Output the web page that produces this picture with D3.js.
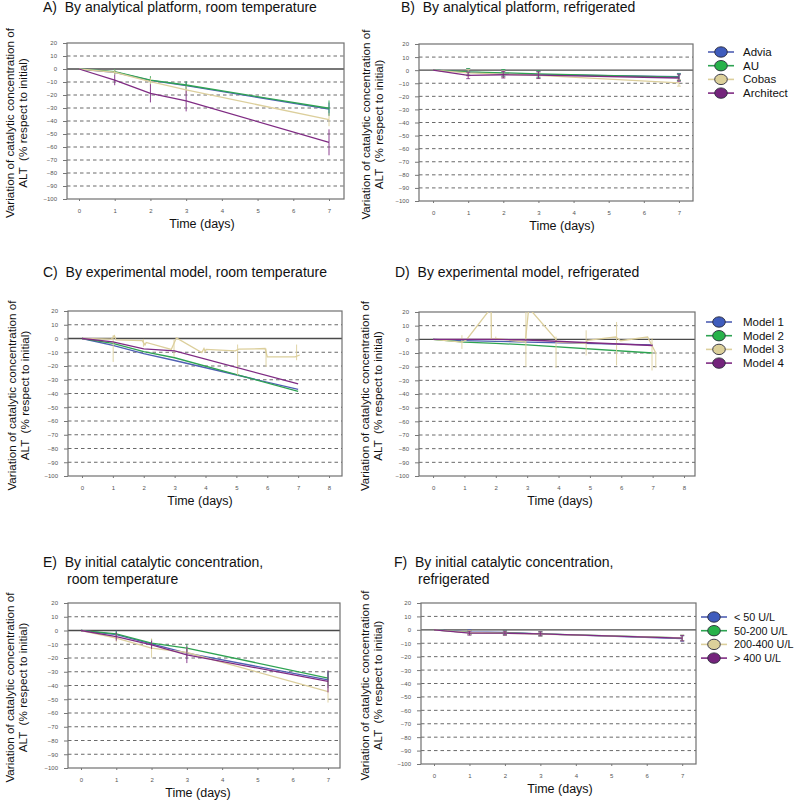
<!DOCTYPE html>
<html>
<head>
<meta charset="utf-8">
<script src="https://cdn.jsdelivr.net/npm/d3@7"></script>
<style>
body { margin: 0; background: #fff; }
svg { font-family: "Liberation Sans", Arial, sans-serif; }
</style>
</head>
<body>
<svg id="chart" width="795" height="802"></svg>
<script>
// sampling days and axis ticks
var days = [0, 1, 2, 3, 7];
var yTicks = [20, 10, 0, -10, -20, -30, -40, -50, -60, -70, -80, -90, -100];
var xTicks7 = [0, 1, 2, 3, 4, 5, 6, 7];
var xTicks8 = [0, 1, 2, 3, 4, 5, 6, 7, 8];

var platformNames = ["Advia", "AU", "Cobas", "Architect"];
var modelNames = ["Model 1", "Model 2", "Model 3", "Model 4"];
var concNames = ["< 50 U/L", "50-200 U/L", "200-400 U/L", "> 400 U/L"];

// A) platform, room temperature
var roomPlatAdvia = [0, -2.5, -8.8, -12.8, -30.8];
var roomPlatAU = [0, -2, -8.5, -12.3, -30.2];
var roomPlatCobas = [0, -2.5, -9.7, -16, -39];
var roomPlatArchitect = [0, -8.5, -18.7, -24.6, -56.4];
var roomPlatAdviaErr = [0, 2, 2, 3, 5];
var roomPlatAUErr = [0, 2, 3, 3, 6];
var roomPlatCobasErr = [0, 2, 3, 3, 5];
var roomPlatArchitectErr = [0, 4, 7, 8, 10];

// B) platform, refrigerated
var fridgePlatAdvia = [0, -1.5, -2.5, -3.5, -5];
var fridgePlatAU = [0, -1.3, -2, -2.8, -5.4];
var fridgePlatCobas = [0, -2, -3, -4, -9.7];
var fridgePlatArchitect = [0, -4, -3.5, -3.8, -6];
var fridgePlatErr = [0, 2.5, 2.5, 2.5, 2.5];

// C) model, room temperature
var roomModel1 = [0, -5, -11, -16, -37];
var roomModel2 = [0, -3.5, -9.5, -14, -38.5];
var roomModel4 = [0, -2.5, -7.5, -9, -33];
var roomModel3Days = [0, 0.95, 1.05, 1.1, 1.95, 2.04, 2.08, 2.89, 3.06, 3.88, 3.95, 3.99, 4.02, 4.96, 5.08, 5.93, 6.0, 6.9, 7.05];
var roomModel3Values = [0, -0.5, 2, -1, -1.5, -4.7, -2.9, -8, 0.5, -10.2, -7.3, -9.5, -7.9, -9, -7.8, -7.3, -13.4, -13.4, -12];
var roomModel3SpikeDays = [1.01, 1.99, 2.98, 5.04, 5.96, 6.95];
var roomModel3SpikeLow = [-17, -6, -13.4, -26.8, -20.7, -15.8];
var roomModel3SpikeHigh = [2.4, -0.3, -1, -4.4, -7.3, -4.4];

// D) model, refrigerated
var fridgeModel1 = [0, -1, -1.5, -2, -4];
var fridgeModel2 = [0, -2, -3, -4, -10];
var fridgeModel4 = [0, 0, 0, -0.5, -4.5];
var fridgeModel3Days = [0, 0.92, 1.06, 1.85, 1.86, 2.04, 2.94, 3.05, 3.9, 3.95, 4.86, 4.92, 5.82, 5.98, 6.84, 7.1];
var fridgeModel3Values = [0, -2, -0.5, 23, 0, 0.5, -2, 23, 0.5, -2, -3, -0.7, 1.7, -1, 1.7, -10];
var fridgeModel3SpikeDays = [0.92, 2.0, 2.96, 3.92, 4.88, 5.85, 6.98, 7.1];
var fridgeModel3SpikeLow = [-7, -1, -20, -21, -11.8, -19, -22.8, -21];
var fridgeModel3SpikeHigh = [3, 2, 20, 2, 6.6, 12.7, 1, -10];

// E) initial concentration, room temperature
var roomConcLow = [0, -3, -9.7, -16.5, -35.9];
var roomConcMid = [0, -2.4, -9.2, -12.8, -34.6];
var roomConcHigh = [0, -5.6, -12.8, -16, -44.4];
var roomConcVeryHigh = [0, -4.4, -10.4, -17.7, -37];
var roomConcLowErr = [0, 3, 3, 4, 6];
var roomConcMidErr = [0, 2, 3, 3, 5];
var roomConcHighErr = [0, 3, 7, 4, 8];
var roomConcVeryHighErr = [0, 3, 3, 6, 8];

// F) initial concentration, refrigerated
var fridgeConcLow = [0, -1.5, -2, -3, -6.5];
var fridgeConcMid = [0, -2, -2.2, -3, -6];
var fridgeConcHigh = [0, -2, -2.5, -3.2, -6];
var fridgeConcVeryHigh = [0, -2.5, -2.5, -3, -6.2];
var fridgeConcErr = [0, 1.5, 1.5, 1.5, 2];

var lineColors = ["#4f5fb3", "#2ea352", "#dccf9c", "#7f2b83"];
var dotColors = ["#3f5cbd", "#27b24a", "#dcd09a", "#74247c"];

var svg = d3.select("#chart");
var clipCount = 0;

/*
 * LinePanel(Object config)
 *  title - array of [text, x, y]
 *  left/right/top/bottom - plot box in pixels
 *  xDomain, xTicks - time axis
 *  series - array of {color, x, y, err, spikeX, lo, hi}
 *  labelX - x of the two rotated y label lines
 *  legend - optional {names, x, y, tx}
 */
function LinePanel(config) {
    var x = d3.scaleLinear().domain(config.xDomain).range([config.left, config.right]);
    var y = d3.scaleLinear().domain([-100, 20]).range([config.bottom, config.top]);
    var g = svg.append("g");

    //titles
    config.title.forEach(function(t) {
        g.append("text").attr("x", t[1]).attr("y", t[2])
         .attr("xml:space", "preserve")
         .attr("font-size", 14).attr("fill", "#111").text(t[0]);
    });

    //dashed grid lines
    g.selectAll(".grid")
     .data(yTicks.filter(function(d) { return d != 0 && d != 20 && d != -100; }))
     .enter().append("line")
     .attr("x1", config.left).attr("x2", config.right)
     .attr("y1", function(d) { return y(d); }).attr("y2", function(d) { return y(d); })
     .attr("stroke", "#444").attr("stroke-width", 0.8).attr("stroke-dasharray", "3.5,3");

    //zero line
    g.append("line")
     .attr("x1", config.left).attr("x2", config.right)
     .attr("y1", y(0)).attr("y2", y(0))
     .attr("stroke", "#4a4a4a").attr("stroke-width", 1.4);

    //box
    g.append("rect")
     .attr("x", config.left).attr("y", config.top)
     .attr("width", config.right - config.left).attr("height", config.bottom - config.top)
     .attr("fill", "none").attr("stroke", "#707070").attr("stroke-width", 1.2);

    //axes
    var yAxis = g.append("g")
     .attr("transform", "translate(" + config.left + ",0)")
     .call(d3.axisLeft(y).tickValues(yTicks).tickSize(4).tickPadding(6));
    var xAxis = g.append("g")
     .attr("transform", "translate(0," + config.bottom + ")")
     .call(d3.axisBottom(x).tickValues(config.xTicks).tickSize(2).tickPadding(8));
    [yAxis, xAxis].forEach(function(a) {
        a.select(".domain").remove();
        a.selectAll("line").attr("stroke", "#777");
        a.selectAll("text").attr("font-size", 6).attr("fill", "#555")
         .attr("font-family", "Liberation Sans, Arial, sans-serif");
    });

    //axis labels
    g.append("text")
     .attr("x", config.timeX).attr("y", config.bottom + 29)
     .attr("text-anchor", "middle").attr("font-size", 12.5).attr("fill", "#111")
     .text("Time (days)");
    var cy = (config.top + config.bottom) / 2 + 2;
    g.append("text")
     .attr("transform", "translate(" + config.labelX + "," + cy + ") rotate(-90)")
     .attr("text-anchor", "middle").attr("font-size", 11.7).attr("fill", "#111")
     .text("Variation of catalytic concentration of");
    g.append("text")
     .attr("transform", "translate(" + (config.labelX + 13) + "," + cy + ") rotate(-90)")
     .attr("text-anchor", "middle").attr("font-size", 11.7).attr("fill", "#111")
     .attr("xml:space", "preserve")
     .text("ALT  (% respect to initial)");

    //clip to plot box
    var clipId = "clip" + (clipCount++);
    svg.append("clipPath").attr("id", clipId).append("rect")
     .attr("x", config.left).attr("y", config.top)
     .attr("width", config.right - config.left).attr("height", config.bottom - config.top);
    var plot = g.append("g").attr("clip-path", "url(#" + clipId + ")");

    var line = d3.line()
     .x(function(d) { return x(d[0]); })
     .y(function(d) { return y(d[1]); });

    config.series.forEach(function(s) {
        var pts = s.x.map(function(d, i) { return [d, s.y[i]]; });
        plot.append("path")
         .attr("d", line(pts))
         .attr("fill", "none").attr("stroke", s.color).attr("stroke-width", 1.3);

        //error bars / spikes
        var bars = [];
        if (s.err) {
            s.x.forEach(function(d, i) {
                if (s.err[i] > 0) bars.push([d, s.y[i] - s.err[i], s.y[i] + s.err[i]]);
            });
        }
        if (s.spikeX) {
            s.spikeX.forEach(function(d, i) { bars.push([d, s.lo[i], s.hi[i]]); });
        }
        bars.forEach(function(b) {
            plot.append("line")
             .attr("x1", x(b[0])).attr("x2", x(b[0]))
             .attr("y1", y(b[1])).attr("y2", y(b[2]))
             .attr("stroke", s.color).attr("stroke-width", 0.9);
            if (config.caps) {
                [b[1], b[2]].forEach(function(v) {
                    plot.append("line")
                     .attr("x1", x(b[0]) - 2).attr("x2", x(b[0]) + 2)
                     .attr("y1", y(v)).attr("y2", y(v))
                     .attr("stroke", s.color).attr("stroke-width", 0.8);
                });
            }
        });
    });

    //legend
    if (config.legend) {
        var leg = g.selectAll(".leg")
         .data(config.legend.names)
         .enter().append("g")
         .attr("transform", function(d, i) {
             return "translate(" + config.legend.x + "," + (config.legend.y + i * 13.7) + ")";
         });
        leg.append("line")
         .attr("x1", -13).attr("x2", 13)
         .attr("stroke", function(d, i) { return lineColors[i]; }).attr("stroke-width", 1.6);
        leg.append("ellipse")
         .attr("rx", 6.3).attr("ry", 5.2)
         .attr("fill", function(d, i) { return dotColors[i]; })
         .attr("stroke", "#2a2a3a").attr("stroke-width", 0.9);
        leg.append("text")
         .attr("x", config.legend.tx).attr("y", 4)
         .attr("font-size", config.legend.size || 11.5).attr("fill", "#111")
         .text(function(d) { return d; });
    }
}

function fourSeries(xs, a, b, c, d, ea, eb, ec, ed) {
    return [
        {color: lineColors[0], x: xs, y: a, err: ea},
        {color: lineColors[1], x: xs, y: b, err: eb},
        {color: lineColors[2], x: xs, y: c, err: ec},
        {color: lineColors[3], x: xs, y: d, err: ed}
    ];
}

LinePanel({
    title: [["A)  By analytical platform, room temperature", 43, 12]],
    left: 67, right: 344, top: 43, bottom: 199,
    xDomain: [-0.336, 7.42], xTicks: xTicks7, timeX: 202, labelX: 14,
    series: fourSeries(days, roomPlatAdvia, roomPlatAU, roomPlatCobas, roomPlatArchitect,
        roomPlatAdviaErr, roomPlatAUErr, roomPlatCobasErr, roomPlatArchitectErr)
});

LinePanel({
    title: [["B)  By analytical platform, refrigerated", 401, 12]],
    left: 419, right: 693, top: 44, bottom: 201, caps: true,
    xDomain: [-0.4, 7.4], xTicks: xTicks7, timeX: 562, labelX: 370,
    series: fourSeries(days, fridgePlatAdvia, fridgePlatAU, fridgePlatCobas, fridgePlatArchitect,
        fridgePlatErr, fridgePlatErr, fridgePlatErr, fridgePlatErr),
    legend: {names: platformNames, x: 721, y: 52, tx: 22}
});

LinePanel({
    title: [["C)  By experimental model, room temperature", 43, 277]],
    left: 68, right: 342, top: 311, bottom: 476,
    xDomain: [-0.453, 8.42], xTicks: xTicks8, timeX: 200, labelX: 16,
    series: [
        {color: lineColors[0], x: days, y: roomModel1},
        {color: lineColors[1], x: days, y: roomModel2},
        {color: lineColors[2], x: roomModel3Days, y: roomModel3Values,
         spikeX: roomModel3SpikeDays, lo: roomModel3SpikeLow, hi: roomModel3SpikeHigh},
        {color: lineColors[3], x: days, y: roomModel4}
    ]
});

LinePanel({
    title: [["D)  By experimental model, refrigerated", 395, 277]],
    left: 419, right: 695, top: 312, bottom: 476,
    xDomain: [-0.448, 8.35], xTicks: xTicks8, timeX: 560, labelX: 369,
    series: [
        {color: lineColors[0], x: days, y: fridgeModel1},
        {color: lineColors[1], x: days, y: fridgeModel2},
        {color: lineColors[2], x: fridgeModel3Days, y: fridgeModel3Values,
         spikeX: fridgeModel3SpikeDays, lo: fridgeModel3SpikeLow, hi: fridgeModel3SpikeHigh},
        {color: lineColors[3], x: days, y: fridgeModel4}
    ],
    legend: {names: modelNames, x: 719, y: 322, tx: 24}
});

LinePanel({
    title: [["E)  By initial catalytic concentration,", 43, 567], ["room temperature", 67, 584]],
    left: 68, right: 340, top: 603, bottom: 768,
    xDomain: [-0.368, 7.34], xTicks: xTicks7, timeX: 198, labelX: 14,
    series: fourSeries(days, roomConcLow, roomConcMid, roomConcHigh, roomConcVeryHigh,
        roomConcLowErr, roomConcMidErr, roomConcHighErr, roomConcVeryHighErr)
});

LinePanel({
    title: [["F)  By initial catalytic concentration,", 394, 567], ["refrigerated", 418, 584]],
    left: 421, right: 696, top: 603, bottom: 764, caps: true,
    xDomain: [-0.367, 7.39], xTicks: xTicks7, timeX: 560, labelX: 369,
    series: fourSeries(days, fridgeConcLow, fridgeConcMid, fridgeConcHigh, fridgeConcVeryHigh,
        fridgeConcErr, fridgeConcErr, fridgeConcErr, fridgeConcErr),
    legend: {names: concNames, x: 714, y: 617, tx: 20, size: 10.8}
});
</script>
</body>
</html>
